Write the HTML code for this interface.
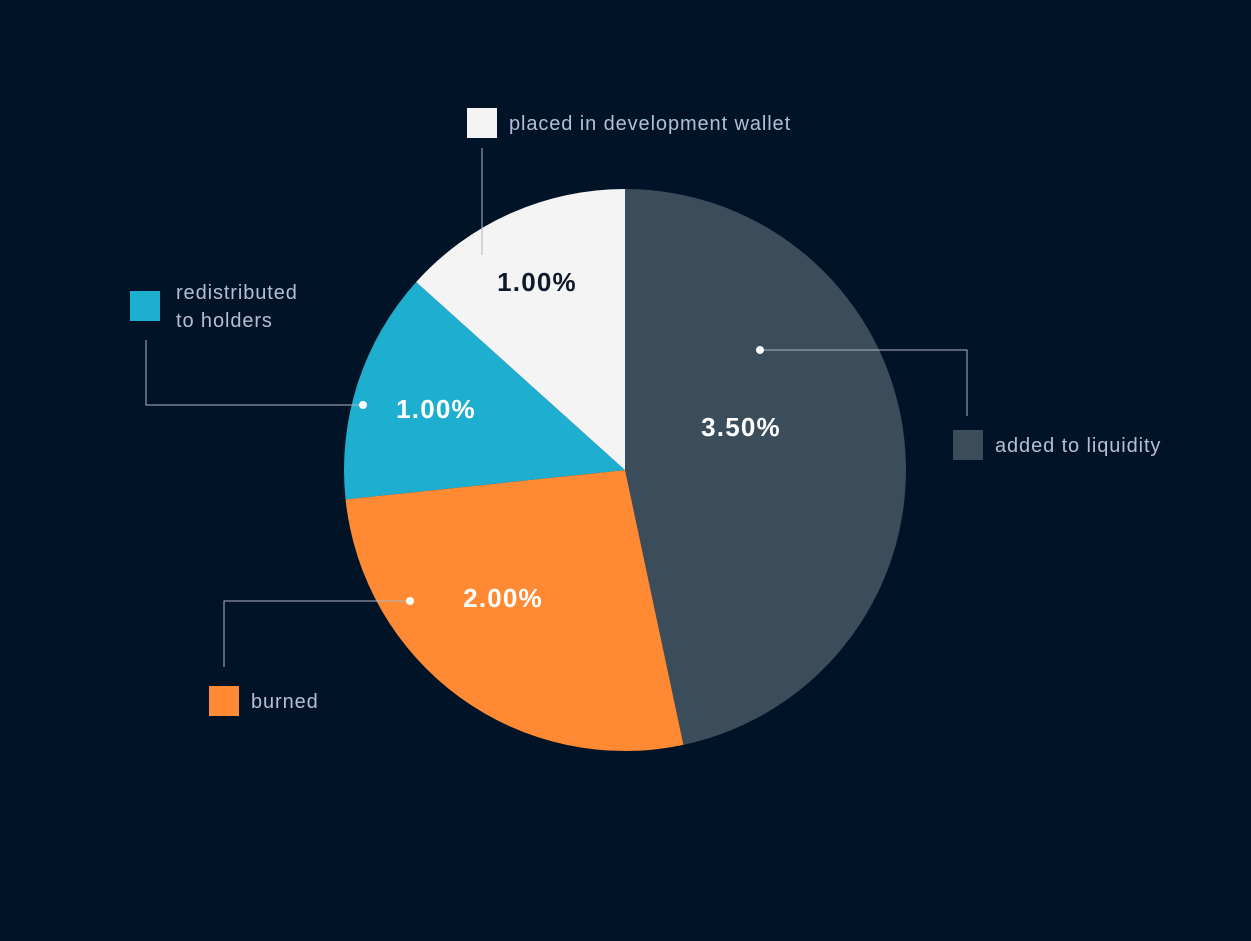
<!DOCTYPE html>
<html><head><meta charset="utf-8">
<style>
html,body{margin:0;padding:0;background:#011327;}
svg{display:block;}
text{font-family:"Liberation Sans","DejaVu Sans",sans-serif;}
</style></head>
<body>
<svg id="chart" width="1251" height="941" viewBox="0 0 1251 941">
<rect width="1251" height="941" fill="#011327"/>
<g id="slices"></g>
<g id="decor"></g>
</svg>
<script>
const categories = ["added to liquidity","burned","redistributed to holders","placed in development wallet"];
const values = [3.5, 2.0, 1.0, 1.0];
const valueLabels = ["3.50%","2.00%","1.00%","1.00%"];
const colors = ["#3b4d5a","#ff8a33","#1eaed0","#f4f4f4"];
const labelColors = ["#ffffff","#ffffff","#ffffff","#0d1a2b"];

const cx=625, cy=470, R=281;
const ns="http://www.w3.org/2000/svg";
const total=values.reduce((a,b)=>a+b,0);
function angle(v){return v/total*2*Math.PI;}
function pt(a,r){return [cx+r*Math.sin(a), cy-r*Math.cos(a)];}

const sl=document.getElementById('slices');
let a0=0;
values.forEach((v,i)=>{
  const a1=a0+angle(v);
  const p0=pt(a0,R), p1=pt(a1,R);
  const large=(a1-a0)>Math.PI?1:0;
  const p=document.createElementNS(ns,'path');
  p.setAttribute('d',`M${cx},${cy} L${p0[0]},${p0[1]} A${R},${R} 0 ${large} 1 ${p1[0]},${p1[1]} Z`);
  p.setAttribute('fill',colors[i]);
  
  
  sl.appendChild(p);
  a0=a1;
});

const layout=[
 {lbl:[741,427], line:[[760,350],[967,350],[967,416]], dot:true, sq:[953,430], txt:[[995,452,"added to liquidity"]]},
 {lbl:[503,598], line:[[410,601],[224,601],[224,667]], dot:true, sq:[209,686], txt:[[251,708,"burned"]]},
 {lbl:[436,409], line:[[363,405],[146,405],[146,340]], dot:true, sq:[130,291], txt:[[176,299,"redistributed"],[176,327,"to holders"]]},
 {lbl:[537,282], line:[[482,255],[482,148]], dot:false, sq:[467,108], txt:[[509,130,"placed in development wallet"]]}
];
const dg=document.getElementById('decor');
layout.forEach((L,i)=>{
  const pl=document.createElementNS(ns,'polyline');
  pl.setAttribute('points',L.line.map(p=>p.join(',')).join(' '));
  pl.setAttribute('fill','none');pl.setAttribute('stroke','#aeb6c6');pl.setAttribute('stroke-width','1');
  
  
  dg.appendChild(pl);
  if(L.dot){
    const c=document.createElementNS(ns,'circle');
    c.setAttribute('cx',L.line[0][0]);c.setAttribute('cy',L.line[0][1]);c.setAttribute('r',4);c.setAttribute('fill','#ffffff');
    
    
    dg.appendChild(c);
  }
  const t=document.createElementNS(ns,'text');
  t.setAttribute('x',L.lbl[0]);t.setAttribute('y',L.lbl[1]+9);
  t.setAttribute('text-anchor','middle');t.setAttribute('font-size','26');t.setAttribute('font-weight','bold');
  t.setAttribute('letter-spacing','1.2');
  t.setAttribute('fill',labelColors[i]);
  t.textContent=valueLabels[i];
  
  
  dg.appendChild(t);
  const r=document.createElementNS(ns,'rect');
  r.setAttribute('x',L.sq[0]);r.setAttribute('y',L.sq[1]);r.setAttribute('width',30);r.setAttribute('height',30);
  r.setAttribute('fill',colors[i]);
  
  
  dg.appendChild(r);
  L.txt.forEach(tt=>{
    const x=document.createElementNS(ns,'text');
    x.setAttribute('x',tt[0]);x.setAttribute('y',tt[1]);
    x.setAttribute('font-size','20');x.setAttribute('fill','#b7bdd8');
    x.setAttribute('letter-spacing','0.9');
    x.textContent=tt[2];
    
    
    dg.appendChild(x);
  });
});
</script>
</body></html>
